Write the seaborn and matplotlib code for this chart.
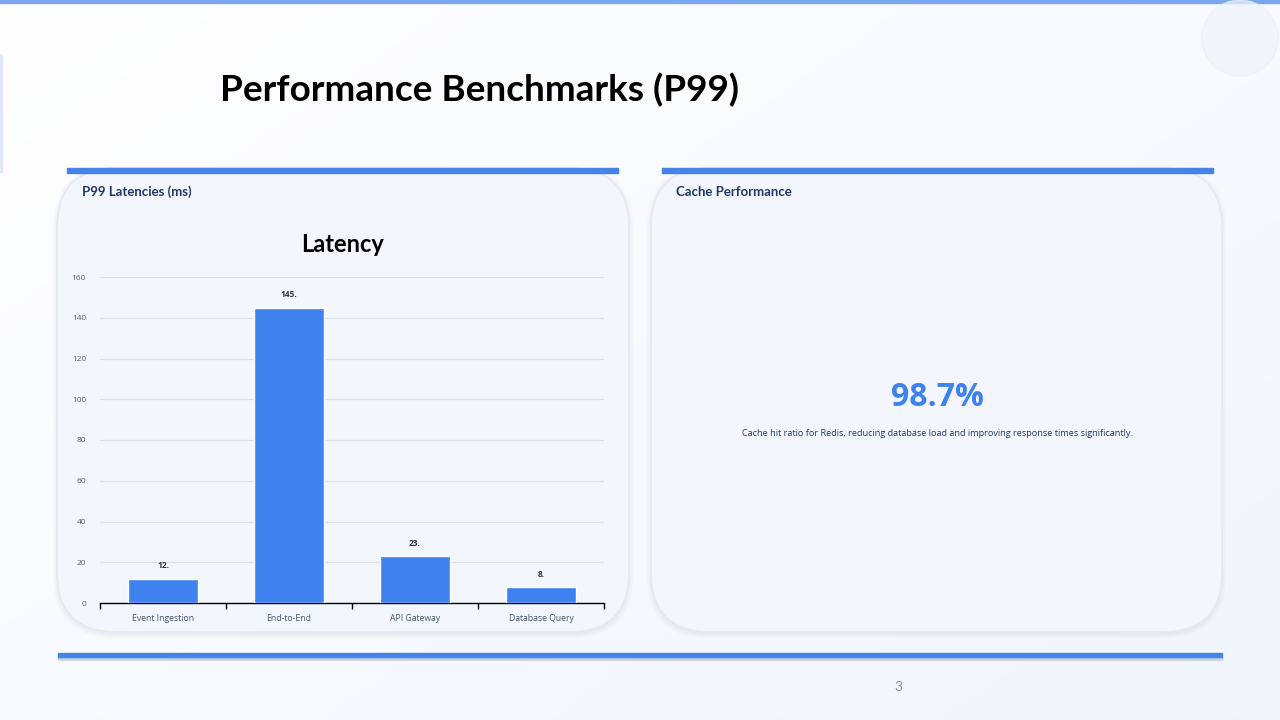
import numpy as np
import matplotlib
matplotlib.use("Agg")
import matplotlib.pyplot as plt
from matplotlib.patches import FancyBboxPatch, Rectangle, Circle
import seaborn as sns

# ---- data ----
categories = ["Event Ingestion", "End-to-End", "API Gateway", "Database Query"]
latency_ms = [12, 145, 23, 8]
y_ticks = [0, 20, 40, 60, 80, 100, 120, 140, 160]
cache_hit = "98.7%"
cache_text = "Cache hit ratio for Redis, reducing database load and improving response times significantly."

sns.set_theme(style="white")
plt.rcParams['font.family'] = ['Lato', 'DejaVu Sans']

BLUE = "#3d82ef"
LINE_BLUE = "#4583e6"
NAVY = "#1f3864"

fig = plt.figure(figsize=(12.8, 7.2), dpi=100)
fig.patch.set_facecolor("#f6f8fc")

# background axes in pixel coordinates
bg = fig.add_axes([0, 0, 1, 1], zorder=-10)
bg.set_xlim(0, 1280)
bg.set_ylim(720, 0)
bg.axis("off")

# soft gradient background (white left/top -> light blue right)
gx = np.linspace(0, 1, 256)
gy = np.linspace(0, 1, 144)
GX, GY = np.meshgrid(gx, gy)
t = np.clip(0.55 * GX + 0.45 * GY, 0, 1)
c0 = np.array([1.0, 1.0, 1.0])
c1 = np.array([0.945, 0.960, 0.988])
img = c0[None, None, :] * (1 - t[..., None]) + c1[None, None, :] * t[..., None]
bg.imshow(img, extent=(0, 1280, 720, 0), aspect="auto", zorder=0)

# top thin line
bg.add_patch(Rectangle((0, 0), 1280, 2.5, color="#7aa7f0", zorder=1))
# faint left vertical accent
bg.add_patch(Rectangle((0, 55), 2, 117, color="#dfe7f6", zorder=1))
# faint circle top right
bg.add_patch(Circle((1240, 38), 38, facecolor="#f1f5fc", edgecolor="#eaf0fa", lw=1,
                    alpha=0.7, zorder=1))

# title
bg.text(220, 90, "Performance Benchmarks (P99)", fontsize=26.6, fontweight="bold",
        color="black", ha="left", va="center", zorder=5)

def panel(x0, x1, y0, y1, bar_x0, bar_x1):
    # shadow
    for i, a in enumerate([0.03, 0.04, 0.05]):
        d = 4 - i * 1.5
        bg.add_patch(FancyBboxPatch((x0 - d, y0 - d + 2), (x1 - x0) + 2 * d, (y1 - y0) + 2 * d,
                                    boxstyle="round,pad=0,rounding_size=62",
                                    facecolor="#8a94a6", edgecolor="none", alpha=a, zorder=2))
    bg.add_patch(FancyBboxPatch((x0, y0), x1 - x0, y1 - y0,
                                boxstyle="round,pad=0,rounding_size=60",
                                facecolor="#f3f7fd", edgecolor="#e6e9ef", lw=1.2, zorder=3))
    bg.add_patch(Rectangle((bar_x0, 168), bar_x1 - bar_x0, 4.5, color=LINE_BLUE, zorder=4))

panel(57, 629, 168, 632, 67, 618)
panel(651, 1222, 168, 632, 662, 1213)

bg.text(82, 192, "P99 Latencies (ms)", fontsize=9.5, fontweight="bold", color=NAVY,
        ha="left", va="center", zorder=5)
bg.text(676, 192, "Cache Performance", fontsize=9.5, fontweight="bold", color=NAVY,
        ha="left", va="center", zorder=5)

# right panel content
bg.text(937, 398, cache_hit, fontsize=23, fontweight="bold", color=BLUE,
        ha="center", va="center", family=["Open Sans", "DejaVu Sans"], zorder=5)
bg.text(937, 434, cache_text, fontsize=6.6, color=NAVY, ha="center", va="center",
        family=["Open Sans", "DejaVu Sans"], zorder=5)

# bottom line
bg.add_patch(Rectangle((58, 653), 1164, 5, color=LINE_BLUE, zorder=4))
bg.add_patch(Rectangle((58, 658), 1164, 1.5, color="#c9cfd9", alpha=0.6, zorder=4))
bg.text(898, 687, "3", fontsize=10, color="#8a8f99", ha="center", va="center", zorder=5)

# chart title
bg.text(343, 244, "Latency", fontsize=17, fontweight="bold", color="black",
        ha="center", va="center", zorder=5)

# ---- chart axes ----
W, H = 1280, 720
ax = fig.add_axes([100 / W, 1 - 603 / H, (604 - 100) / W, (603 - 277) / H], zorder=5)
ax.set_facecolor("none")
sns.barplot(x=categories, y=latency_ms, color=BLUE, saturation=1, width=0.555, ax=ax, zorder=3)
ax.set_xlim(-0.5, len(categories) - 0.5)
ax.set_ylim(0, 160)
ax.set_yticks(y_ticks)
ax.yaxis.grid(True, color="#dde1e7", lw=0.9, zorder=0)
ax.set_axisbelow(True)
for s in ["top", "right", "left"]:
    ax.spines[s].set_visible(False)
ax.spines["bottom"].set_color("black")
ax.spines["bottom"].set_linewidth(1.0)
ax.set_xlabel("")
ax.set_ylabel("")
ax.tick_params(axis="y", length=0, labelsize=6, labelcolor="#595959", pad=10)
ax.tick_params(axis="x", which="major", length=0, labelsize=6.2, labelcolor="#44546a", pad=8)
ax.set_xticks(np.arange(-0.5, len(categories), 1.0), minor=True)
ax.tick_params(axis="x", which="minor", bottom=True, length=4, width=1, color="black",
               direction="out")
for lab in ax.get_xticklabels() + ax.get_yticklabels():
    lab.set_family(["Open Sans", "DejaVu Sans"])

for i, v in enumerate(latency_ms):
    ax.text(i, v + 4, f"{v}.", ha="center", va="bottom", fontsize=6, fontweight="bold",
            color="#333333", family=["Open Sans", "DejaVu Sans"])

fig.savefig("out.png", dpi=100, facecolor=fig.get_facecolor())
